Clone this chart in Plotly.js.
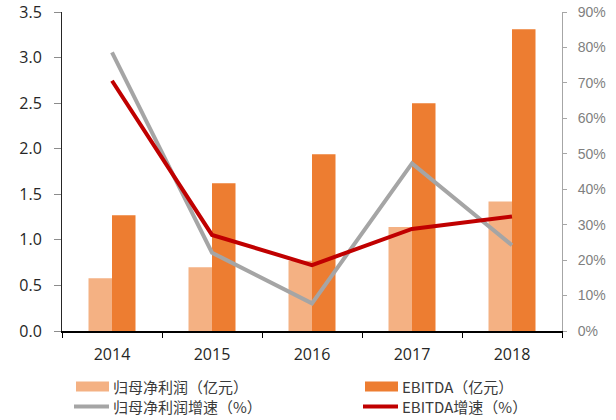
<!DOCTYPE html>
<html>
<head>
<meta charset="utf-8">
<script src="https://cdn.plot.ly/plotly-3.0.1.min.js"></script>
<style>html,body{margin:0;padding:0;background:#fff;}#chart{width:616px;height:420px;}</style>
</head>
<body>
<div id="chart"></div>
<script>
// ---- data ----
const years = ['2014', '2015', '2016', '2017', '2018'];
const netProfit = [0.58, 0.70, 0.77, 1.14, 1.42];      // 归母净利润（亿元）
const ebitda = [1.27, 1.62, 1.94, 2.50, 3.31];         // EBITDA（亿元）
const netProfitGrowth = [78.6, 22.1, 7.8, 47.3, 24.2];  // 归母净利润增速（%）
const ebitdaGrowth = [70.6, 27.1, 18.6, 28.8, 32.3];    // EBITDA增速（%）
const seriesNames = ['归母净利润（亿元）', 'EBITDA（亿元）', '归母净利润增速（%）', 'EBITDA增速（%）'];
const leftTicks = [0, 0.5, 1.0, 1.5, 2.0, 2.5, 3.0, 3.5];
const rightTicks = [0, 10, 20, 30, 40, 50, 60, 70, 80, 90];

const colors = ['#F4B183', '#ED7D31', '#A5A5A5', '#C00000'];
const W = 616, H = 420;
const M = {l: 62, r: 54, t: 12, b: 89};
const pw = W - M.l - M.r, ph = H - M.t - M.b;
const px = x => (x - M.l) / pw;
const py = y => (H - M.b - y) / ph;

const cjk = '"Noto Sans CJK SC", "Open Sans", sans-serif';
const traces = [
  {type: 'bar', x: years, y: netProfit, name: seriesNames[0], marker: {color: colors[0]}, yaxis: 'y'},
  {type: 'bar', x: years, y: ebitda, name: seriesNames[1], marker: {color: colors[1]}, yaxis: 'y'},
  {type: 'scatter', mode: 'lines', x: years, y: netProfitGrowth, name: seriesNames[2], line: {color: colors[2], width: 4}, yaxis: 'y2'},
  {type: 'scatter', mode: 'lines', x: years, y: ebitdaGrowth, name: seriesNames[3], line: {color: colors[3], width: 4}, yaxis: 'y2'}
];

// custom legend (2 columns x 2 rows)
const legPos = [
  {x0: 76, x1: 109, y: 386.5, tx: 112},
  {x0: 365, x1: 398, y: 386.5, tx: 401},
  {x0: 76, x1: 109, y: 406.5, tx: 112},
  {x0: 365, x1: 398, y: 406.5, tx: 401}
];
const shapes = [], annotations = [];
legPos.forEach((p, i) => {
  if (i === 0 || i === 1) {
    shapes.push({type: 'rect', xref: 'paper', yref: 'paper', x0: px(p.x0), x1: px(p.x1), y0: py(p.y + 5), y1: py(p.y - 5), fillcolor: colors[i], line: {width: 0}});
  } else {
    shapes.push({type: 'line', xref: 'paper', yref: 'paper', x0: px(p.x0 - 2), x1: px(p.x1), y0: py(p.y), y1: py(p.y), line: {color: colors[i], width: 4}});
  }
  annotations.push({xref: 'paper', yref: 'paper', x: px(p.tx), y: py(p.y), xanchor: 'left', yanchor: 'middle', showarrow: false, borderpad: 0, text: seriesNames[i], font: {family: cjk, size: 15, color: '#3a3a3a'}});
});

const layout = {
  width: W, height: H,
  margin: M,
  paper_bgcolor: '#fff', plot_bgcolor: '#fff',
  showlegend: false,
  barmode: 'group', bargap: 0.53, bargroupgap: 0,
  font: {family: '"Open Sans", sans-serif', color: '#262626'},
  xaxis: {
    type: 'category', tickson: 'boundaries', ticks: 'outside', ticklen: 5, tickcolor: '#000', tickwidth: 1,
    showline: true, linecolor: '#000', linewidth: 1.5, showgrid: false, zeroline: false,
    tickfont: {family: '"Open Sans", sans-serif', size: 16, color: '#262626'}, ticklabelstandoff: 8
  },
  yaxis: {
    range: [0, 3.5], tickvals: leftTicks, ticktext: leftTicks.map(v => v.toFixed(1)),
    ticks: 'outside', ticklen: 7, tickcolor: '#8c8c8c', showline: true, linecolor: '#262626', linewidth: 1,
    showgrid: false, zeroline: false,
    tickfont: {family: '"Open Sans", sans-serif', size: 16, color: '#262626'}, ticklabelstandoff: 9
  },
  yaxis2: {
    range: [0, 90], overlaying: 'y', side: 'right', tickvals: rightTicks, ticktext: rightTicks.map(v => v + '%'),
    ticks: 'outside', ticklen: 4, tickcolor: '#a6a6a6', showline: true, linecolor: '#a6a6a6', linewidth: 1,
    showgrid: false, zeroline: false,
    tickfont: {family: '"Liberation Sans Narrow", "Liberation Sans", Arial, sans-serif', size: 14, color: '#7f7f7f'}, ticklabelstandoff: 8
  },
  shapes: shapes,
  annotations: annotations
};

Plotly.newPlot('chart', traces, layout, {staticPlot: true, displayModeBar: false});
</script>
</body>
</html>
